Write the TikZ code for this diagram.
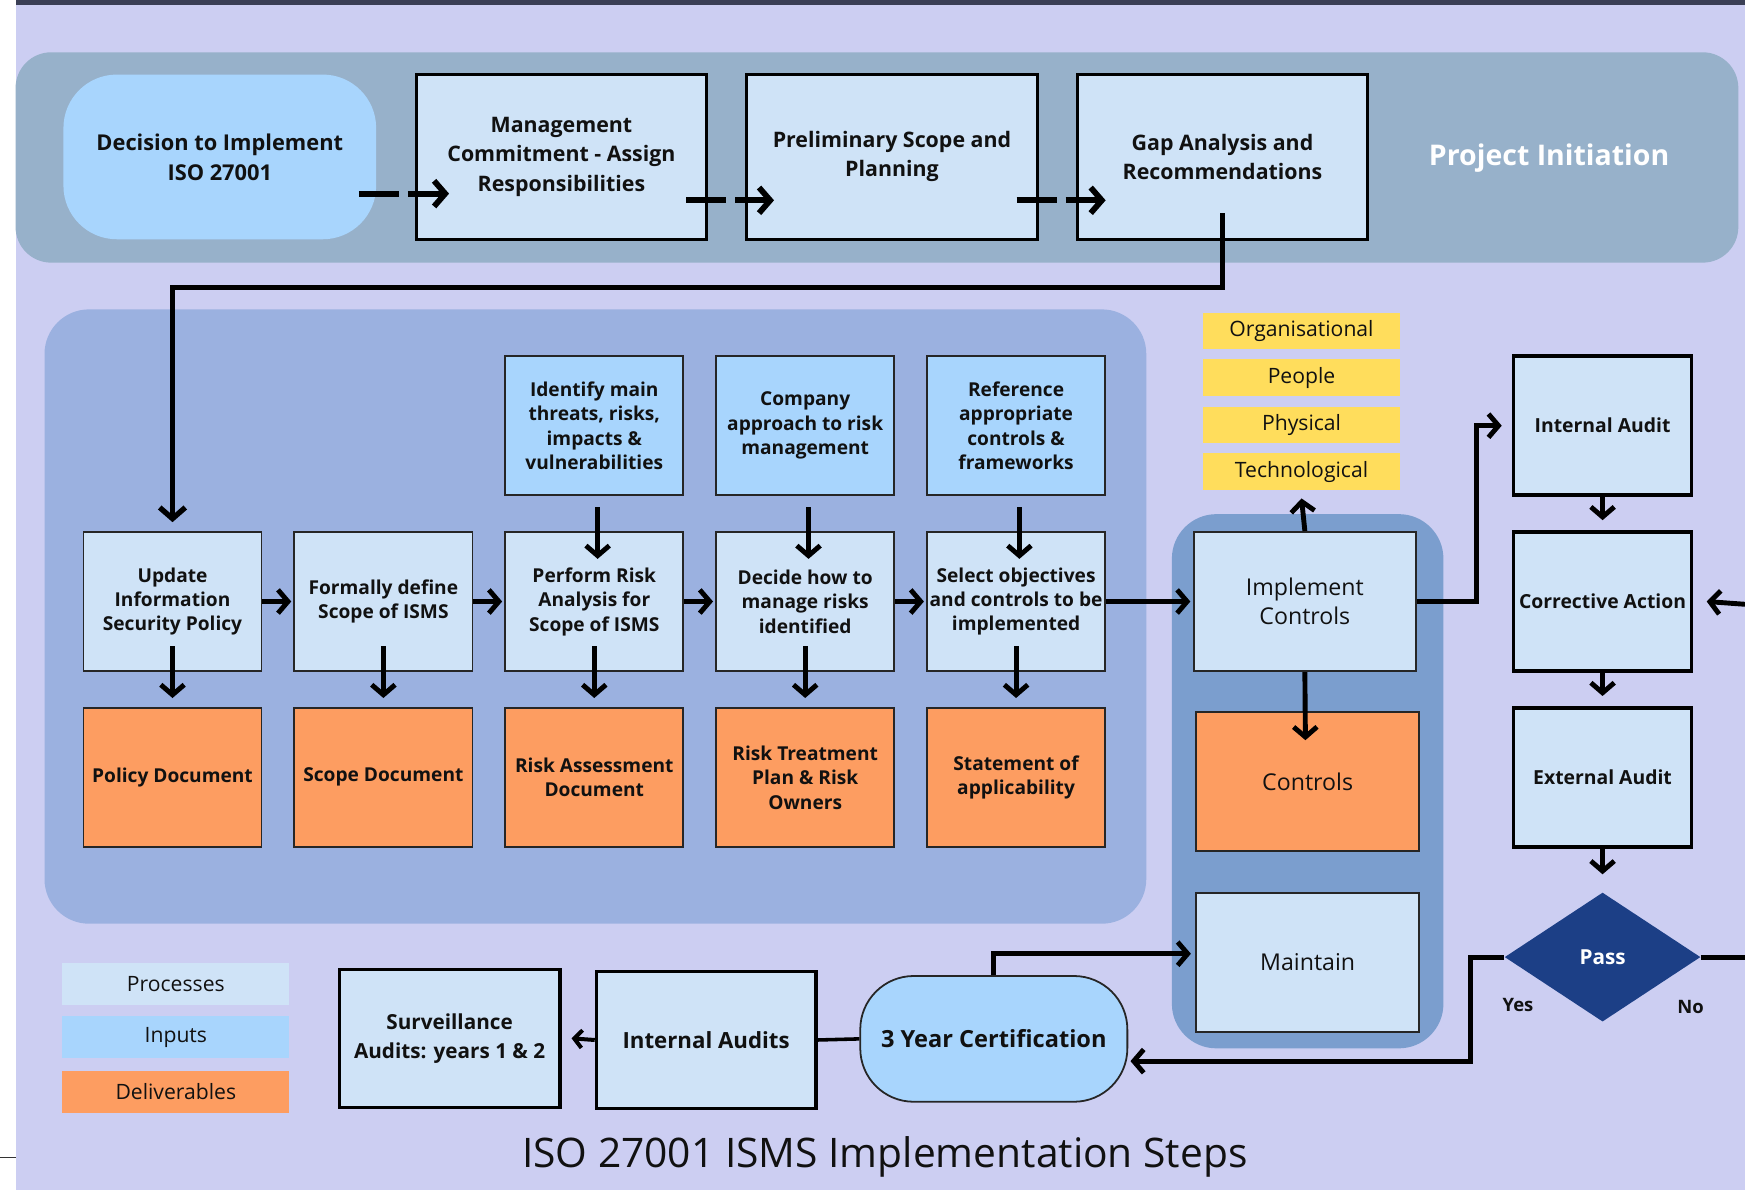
\documentclass[tikz,border=0pt]{standalone}
\usepackage{fontspec}
\setmainfont{Open Sans}
\usetikzlibrary{arrows.meta,shapes.geometric,calc}
\definecolor{lav}{HTML}{CCCEF2}
\definecolor{bandc}{HTML}{97B1CA}
\definecolor{ismsc}{HTML}{9BB1E0}
\definecolor{implc}{HTML}{7B9ECE}
\definecolor{procc}{HTML}{CFE3F7}
\definecolor{inpc}{HTML}{A8D5FD}
\definecolor{delc}{HTML}{FD9D61}
\definecolor{yelc}{HTML}{FFDD5C}
\definecolor{passc}{HTML}{1C3F86}
\definecolor{topstrip}{HTML}{3A3F55}
\definecolor{txt}{HTML}{111111}
\begin{document}
\begin{tikzpicture}[x=0.5pt,y=-0.5pt,
  every node/.style={text=txt, align=center, inner sep=1pt},
  topbox/.style={rectangle, draw=black, line width=1.5pt, fill=procc, minimum width=130.5pt, minimum height=74pt, font=\bfseries\fontsize{9.6}{13}\selectfont},
  procbox/.style={rectangle, draw=black!85, line width=0.8pt, fill=procc, minimum width=80pt, minimum height=62.5pt, font=\bfseries\fontsize{8.6}{11}\selectfont},
  inpbox/.style={procbox, fill=inpc},
  delbox/.style={procbox, fill=delc},
  implbox/.style={rectangle, draw=black!85, line width=0.9pt, fill=procc, minimum width=100pt, minimum height=62.5pt, font=\fontsize{10.4}{13}\selectfont},
  yelbox/.style={rectangle, fill=yelc, minimum width=88.5pt, minimum height=16.5pt, font=\fontsize{9.5}{12}\selectfont},
  audbox/.style={rectangle, draw=black, line width=1.6pt, fill=procc, minimum width=80pt, minimum height=62.5pt, font=\bfseries\fontsize{8.7}{11}\selectfont},
  legbox/.style={rectangle, minimum width=102pt, minimum height=19pt, font=\fontsize{9.5}{12}\selectfont},
  arr/.style={line width=2.2pt, -{Straight Barb[length=4.5pt,width=10.5pt]}},
  bigarr/.style={line width=2.6pt, -{Straight Barb[length=5pt,width=11.5pt]}},
  dasharr/.style={bigarr, dash pattern=on 18pt off 4pt on 200pt off 0pt}
]
\useasboundingbox (0,0) rectangle (1568,1069);
\fill[white] (0,0) rectangle (1568,1069);
\fill[lav] (14,0) rectangle (1568,1069);
\fill[topstrip] (14,0) rectangle (1568,4.5);
\draw[line width=0.6pt, black!80] (0,1040) -- (14,1040);
% bands
\fill[bandc, rounded corners=16pt] (14,47) rectangle (1562,236);
\fill[ismsc, rounded corners=20pt] (40,278) rectangle (1030,830);
\fill[implc, rounded corners=20pt] (1053,462) rectangle (1297,942);

% project initiation row
\node[rectangle, fill=inpc, rounded corners=24pt, minimum width=140.5pt, minimum height=74pt, font=\bfseries\fontsize{9.8}{13.5}\selectfont] (dec) at (197.5,141) {Decision to Implement\\ISO 27001};
\node[topbox, font=\bfseries\fontsize{9.6}{13.2}\selectfont] (mgmt) at (504.5,141) {Management\\Commitment - Assign\\Responsibilities};
\node[topbox] (pre) at (801.5,141) {Preliminary Scope and\\Planning};
\node[topbox] (gap) at (1098.5,141) {Gap Analysis and\\Recommendations};
\node[text=white, font=\bfseries\fontsize{12.8}{15}\selectfont] (pin) at (1392,142) {Project Initiation};

\draw[dasharr] ($(dec.east)+(-16,33)$) -- ($(mgmt.west)+(31,33)$);
\draw[dasharr] ($(mgmt.east)+(-20,39)$) -- ($(pre.west)+(26,39)$);
\draw[dasharr] ($(pre.east)+(-20,39)$) -- ($(gap.west)+(27,39)$);

% ISMS inputs
\node[inpbox] (in1) at (534,382.5) {Identify main\\threats, risks,\\impacts \&\\vulnerabilities};
\node[inpbox] (in2) at (723.5,382.5) {Company\\approach to risk\\management};
\node[inpbox] (in3) at (913,382.5) {Reference\\appropriate\\controls \&\\frameworks};
% processes
\node[procbox] (p1) at (155,540.5) {Update\\Information\\Security Policy};
\node[procbox] (p2) at (344.5,540.5) {Formally define\\Scope of ISMS};
\node[procbox] (p3) at (534,540.5) {Perform Risk\\Analysis for\\Scope of ISMS};
\node[procbox] (p4) at (723.5,540.5) {Decide how to\\manage risks\\identified};
\node[procbox] (p5) at (913,540.5) {Select objectives\\and controls to be\\implemented};
% deliverables
\node[delbox] (d1) at (155,698.5) {Policy Document};
\node[delbox] (d2) at (344.5,698.5) {Scope Document};
\node[delbox] (d3) at (534,698.5) {Risk Assessment\\Document};
\node[delbox] (d4) at (723.5,698.5) {Risk Treatment\\Plan \& Risk\\Owners};
\node[delbox] (d5) at (913,698.5) {Statement of\\applicability};

\draw[bigarr, line width=2.4pt] ($(gap.south)+(0,-25)$) -- ++(0,67) -| ($(p1.north)+(0,-8)$);

\foreach \a/\b in {p1/p2,p2/p3,p3/p4,p4/p5}
  \draw[arr] (\a.east) -- ($(\b.west)+(-2,0)$);
\foreach \a/\b in {p1/d1,p2/d2,p3/d3,p4/d4,p5/d5}
  \draw[arr] ($(\a.south)+(0,-23)$) -- ($(\b.north)+(0,-8)$);
\foreach \a/\b in {in1/p3,in2/p4,in3/p5}
  \draw[arr] ($(\a.south)+(3,10)$) -- ($(\b.north)+(3,25)$);

% implement group
\node[implbox] (impl) at (1172.5,540.5) {Implement\\Controls};
\node[implbox, fill=delc] (ctrl) at (1175,702.5) {Controls};
\node[implbox] (maint) at (1175,864.5) {Maintain};
\node[yelbox] (y1) at (1169.5,297.5) {Organisational};
\node[yelbox] (y2) at (1169.5,339.5) {People};
\node[yelbox] (y3) at (1169.5,382) {Physical};
\node[yelbox] (y4) at (1169.5,424) {Technological};

\draw[arr] (p5.east) -- ($(impl.west)+(-2,0)$);
\draw[arr] (impl.north) -- ($(y4.south)+(0,7)$);
\draw[arr] (impl.south) -- ($(ctrl.north)+(-2,26)$);

% audit column
\node[audbox] (ia) at (1440,382.5) {Internal Audit};
\node[audbox] (ca) at (1440,540.5) {Corrective Action};
\node[audbox] (ea) at (1440,698.5) {External Audit};
\node[diamond, fill=passc, minimum width=88pt, minimum height=58pt, inner sep=0pt, text=white, font=\bfseries\fontsize{9.3}{11}\selectfont] (pass) at (1440,860) {Pass};
\coordinate (rin) at (1568,543);
\coordinate (rno) at (1568,860);

\draw[arr] (impl.east) -- ++(53,0) |- ($(ia.west)+(-9,0)$);
\draw[arr] (ia.south) -- ($(ca.north)+(0,-9)$);
\draw[arr] (ca.south) -- ($(ea.north)+(0,-9)$);
\draw[arr] (ea.south) -- ($(pass.north)+(0,-16)$);
\draw[arr] (rin) -- ($(ca.east)+(12,0)$);
\draw[line width=2.2pt] (pass.east) -- (rno);

\node[font=\bfseries\fontsize{8.3}{10}\selectfont] (yes) at (1364,903) {Yes};
\node[font=\bfseries\fontsize{8.3}{10}\selectfont] (no) at (1519,905) {No};

% bottom row
\node[rectangle, draw=black!85, line width=0.8pt, fill=inpc, rounded corners=24pt, minimum width=120pt, minimum height=56.5pt, font=\bfseries\fontsize{10.6}{13}\selectfont] (cert) at (893,933.5) {3 Year Certification};
\node[audbox, minimum width=98.5pt, minimum height=61.5pt, font=\bfseries\fontsize{10}{13}\selectfont] (ia2) at (634.5,934.5) {Internal Audits};
\node[audbox, minimum width=99pt, minimum height=62pt, font=\bfseries\fontsize{9.3}{13}\selectfont] (surv) at (404,933) {Surveillance\\Audits: years 1 \& 2};

\draw[arr] (pass.west) -- ++(-30,0) |- ($(cert.east)+(2,20)$);
\draw[arr] (cert.north) |- ($(maint.west)+(-4,-7.5)$);
\draw[line width=1.6pt] (cert.west) -- (ia2.east);
\draw[line width=1.8pt, -{Straight Barb[length=3.5pt,width=8pt]}] (ia2.west) -- ($(surv.east)+(9,0)$);

% legend
\node[legbox, fill=procc] (l1) at (158,884) {Processes};
\node[legbox, fill=inpc] (l2) at (158,932) {Inputs};
\node[legbox, fill=delc] (l3) at (158,981) {Deliverables};

\node[font=\fontsize{18.3}{22}\selectfont] (title) at (795,1040) {ISO 27001 ISMS Implementation Steps};
\end{tikzpicture}
\end{document}
